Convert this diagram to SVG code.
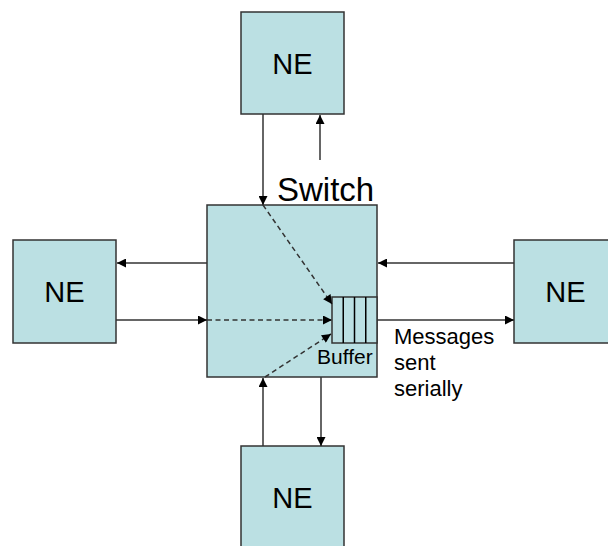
<svg xmlns="http://www.w3.org/2000/svg" width="608" height="546" viewBox="0 0 608 546">
  <style>
    .box { fill: #bbe0e3; stroke: #333333; stroke-width: 1.5; }
    .lbl { font-family: "Liberation Sans", Arial, sans-serif; fill: #000000; }
    .ne { font-size: 29px; text-anchor: middle; }
    .wire { fill: none; stroke: #333333; stroke-width: 1.5; }
    .dash { stroke-dasharray: 5 3.5; }
    .cell { fill: none; stroke: #000000; stroke-width: 1.5; }
  </style>
  <defs>
    <marker id="arrow" viewBox="0 0 10 10" refX="10" refY="5" markerWidth="10" markerHeight="9" markerUnits="userSpaceOnUse" orient="auto">
      <path d="M0,0 L10,5 L0,10 z" fill="#000000"/>
    </marker>
  </defs>

  <rect width="608" height="546" fill="#ffffff"/>

  <!-- switch with its output buffer -->
  <g id="switch">
    <rect class="box" x="207" y="205" width="170" height="172"/>
    <text class="lbl" x="277" y="201" font-size="33">Switch</text>
  </g>
  <g id="buffer">
    <rect class="box" x="332" y="297" width="45" height="46"/>
    <line class="cell" x1="343.25" y1="297" x2="343.25" y2="343"/>
    <line class="cell" x1="354.5" y1="297" x2="354.5" y2="343"/>
    <line class="cell" x1="365.75" y1="297" x2="365.75" y2="343"/>
    <text class="lbl" x="317" y="364" font-size="21">Buffer</text>
  </g>

  <!-- network elements -->
  <g id="ne-top">
    <rect class="box" x="241" y="12" width="103" height="102"/>
    <text class="lbl ne" x="292.5" y="74">NE</text>
  </g>
  <g id="ne-left">
    <rect class="box" x="13" y="240" width="103" height="103"/>
    <text class="lbl ne" x="64.5" y="302">NE</text>
  </g>
  <g id="ne-right">
    <rect class="box" x="514" y="240" width="103" height="103"/>
    <text class="lbl ne" x="565.5" y="302">NE</text>
  </g>
  <g id="ne-bottom">
    <rect class="box" x="241" y="446" width="103" height="103"/>
    <text class="lbl ne" x="292.5" y="508">NE</text>
  </g>

  <!-- links between switch and network elements -->
  <g id="connectors">
    <line class="wire" x1="263" y1="114" x2="263" y2="205" marker-end="url(#arrow)"/>
    <line class="wire" x1="320" y1="160" x2="320" y2="115" marker-end="url(#arrow)"/>
    <line class="wire" x1="207" y1="263" x2="117" y2="263" marker-end="url(#arrow)"/>
    <line class="wire" x1="116" y1="320" x2="207" y2="320" marker-end="url(#arrow)"/>
    <line class="wire" x1="514" y1="263" x2="378" y2="263" marker-end="url(#arrow)"/>
    <line class="wire" x1="377" y1="320" x2="514" y2="320" marker-end="url(#arrow)"/>
    <line class="wire" x1="263" y1="446" x2="263" y2="378" marker-end="url(#arrow)"/>
    <line class="wire" x1="321" y1="377" x2="321" y2="446" marker-end="url(#arrow)"/>

    <!-- internal paths into the buffer -->
    <line class="wire dash" x1="263" y1="205" x2="332" y2="304" marker-end="url(#arrow)"/>
    <line class="wire dash" x1="207" y1="320" x2="332" y2="320" marker-end="url(#arrow)"/>
    <line class="wire dash" x1="265" y1="377" x2="331" y2="334" marker-end="url(#arrow)"/>
  </g>

  <g id="note">
    <text class="lbl" font-size="22">
      <tspan x="394" y="344">Messages</tspan>
      <tspan x="394" y="370">sent</tspan>
      <tspan x="394" y="396">serially</tspan>
    </text>
  </g>
</svg>
